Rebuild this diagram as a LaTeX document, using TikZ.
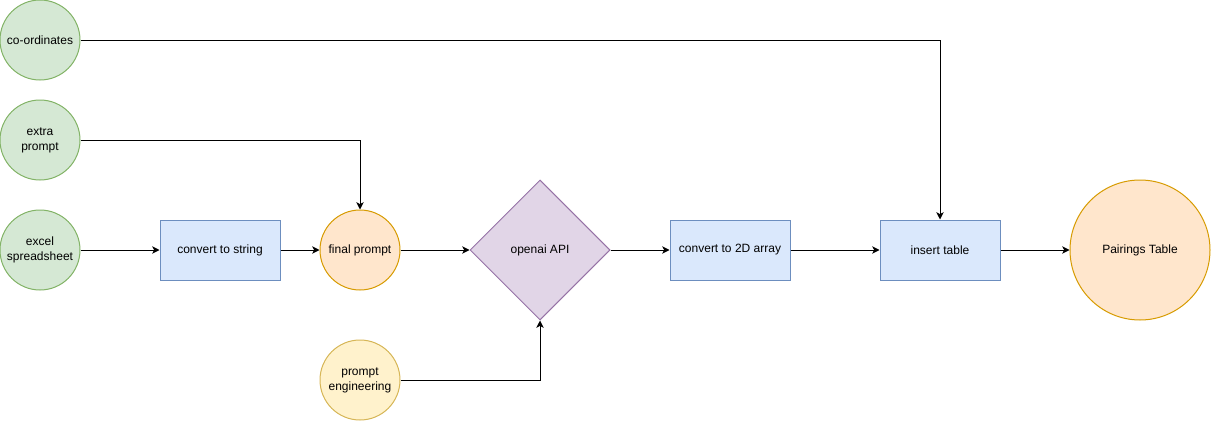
\documentclass[tikz,border=0pt]{standalone}
\usepackage{fontspec}
\setmainfont{Liberation Sans}
\usetikzlibrary{arrows.meta,positioning,shapes.geometric}

\definecolor{grnfill}{HTML}{D5E8D4}
\definecolor{grnline}{HTML}{82B366}
\definecolor{bluefill}{HTML}{DAE8FC}
\definecolor{blueline}{HTML}{6C8EBF}
\definecolor{orgfill}{HTML}{FFE6CC}
\definecolor{orgline}{HTML}{D79B00}
\definecolor{purfill}{HTML}{E1D5E7}
\definecolor{purline}{HTML}{9673A6}
\definecolor{yelfill}{HTML}{FFF2CC}
\definecolor{yelline}{HTML}{D6B656}

\begin{document}
\begin{tikzpicture}[x=0.75pt,y=-0.75pt,line width=0.75pt,font=\fontsize{9pt}{11.25pt}\selectfont,
  >={Stealth[length=5.5pt,width=5.5pt,inset=1.5pt]},
  inbox/.style={circle,draw=grnline,fill=grnfill,minimum size=60pt,inner sep=0pt,align=center},
  procbox/.style={rectangle,draw=blueline,fill=bluefill,minimum width=90pt,minimum height=45pt,inner sep=0pt,align=center},
  flow/.style={->,black}]
\useasboundingbox (0,0) rectangle (1211,421);

% inputs on the left
\node[inbox] (coord) at (40,40) {co-ordinates};
\node[inbox] (extra) at (40,140) {extra\\prompt};
\node[inbox] (excel) at (40,250) {excel\\spreadsheet};

% main row
\node[procbox] (tostr) at (220,250) {convert to string};
\node[circle,draw=orgline,fill=orgfill,minimum size=60pt,inner sep=0pt] (final) at (360,250) {final prompt};
\node[diamond,aspect=1,draw=purline,fill=purfill,minimum size=105pt,inner sep=0pt] (api) at (540,250) {openai API};
\node[procbox] (toarr) at (730,250) {convert to 2D array};
\node[procbox] (instab) at (940,250) {insert table};
\node[circle,draw=orgline,fill=orgfill,minimum size=105pt,inner sep=0pt] (pairs) at (1140,250) {Pairings Table};

\node[circle,draw=yelline,fill=yelfill,minimum size=60pt,inner sep=0pt,align=center] (eng) at (360,380) {prompt\\engineering};

% connectors
\draw[flow] (excel.east) -- (tostr.west);
\draw[flow] (tostr.east) -- (final.west);
\draw[flow] (final.east) -- (api.west);
\draw[flow] (api.east) -- (toarr.west);
\draw[flow] (toarr.east) -- (instab.west);
\draw[flow] (instab.east) -- (pairs.west);
\draw[flow] (coord.east) -| (instab.north);
\draw[flow] (extra.east) -| (final.north);
\draw[flow] (eng.east) -| (api.south);
\end{tikzpicture}
\end{document}
